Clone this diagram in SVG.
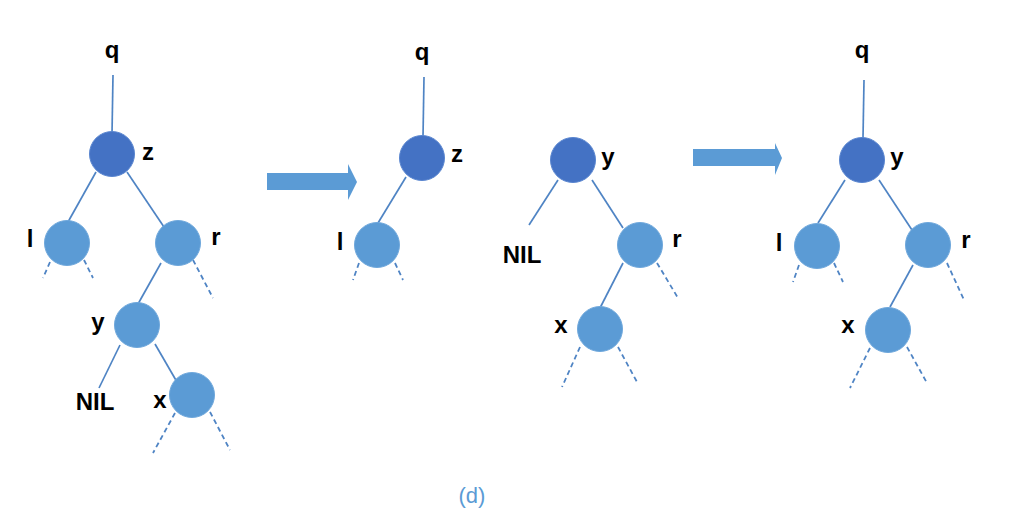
<svg xmlns="http://www.w3.org/2000/svg" width="1009" height="524" viewBox="0 0 1009 524">
<style>
.e{stroke:#4f84c4;stroke-width:1.7;fill:none}
.d{stroke:#4f84c4;stroke-width:1.8;fill:none;stroke-dasharray:5,3.5}
.n{fill:#5b9bd5;stroke:#6fa8dc;stroke-width:1}
.k{fill:#4472c4;stroke:#5a86d0;stroke-width:1}
.t{font-family:"Liberation Sans",Arial,sans-serif;font-weight:bold;font-size:24px;fill:#000;text-anchor:middle}
.a{fill:#5b9bd5}
.c{font-family:"Liberation Sans",Arial,sans-serif;font-size:22px;fill:#5b9bd5;text-anchor:middle}
</style>
<rect width="1009" height="524" fill="#fff"/>
<g id="connectors">
<!-- tree 1 -->
<line class="e" x1="113" y1="75" x2="112" y2="134"/>
<line class="e" x1="96" y1="172" x2="68" y2="222"/>
<line class="e" x1="127" y1="172" x2="166" y2="230"/>
<line class="e" x1="161" y1="263" x2="138" y2="304"/>
<line class="e" x1="155" y1="344" x2="177" y2="382"/>
<line class="e" x1="120" y1="345" x2="99" y2="388"/>
<line class="d" x1="50" y1="262" x2="43" y2="278"/>
<line class="d" x1="84" y1="260" x2="93" y2="278"/>
<line class="d" x1="193" y1="260" x2="213" y2="298"/>
<line class="d" x1="175" y1="413" x2="153" y2="453"/>
<line class="d" x1="210" y1="412" x2="230" y2="450"/>
<!-- tree 2 -->
<line class="e" x1="424" y1="77" x2="423" y2="137"/>
<line class="e" x1="406" y1="177" x2="378" y2="223"/>
<line class="d" x1="359" y1="263" x2="353" y2="280"/>
<line class="d" x1="395" y1="263" x2="403" y2="280"/>
<!-- tree 3 -->
<line class="e" x1="558" y1="180" x2="529" y2="225"/>
<line class="e" x1="592" y1="180" x2="623" y2="228"/>
<line class="e" x1="623" y1="263" x2="600" y2="308"/>
<line class="d" x1="657" y1="263" x2="678" y2="298"/>
<line class="d" x1="580" y1="347" x2="562" y2="387"/>
<line class="d" x1="618" y1="347" x2="637" y2="382"/>
<!-- tree 4 -->
<line class="e" x1="864" y1="80" x2="863" y2="138"/>
<line class="e" x1="845" y1="180" x2="818" y2="223"/>
<line class="e" x1="879" y1="180" x2="912" y2="230"/>
<line class="e" x1="913" y1="265" x2="890" y2="307"/>
<line class="d" x1="799" y1="265" x2="793" y2="282"/>
<line class="d" x1="834" y1="263" x2="843" y2="282"/>
<line class="d" x1="947" y1="263" x2="964" y2="300"/>
<line class="d" x1="870" y1="348" x2="850" y2="388"/>
<line class="d" x1="907" y1="347" x2="927" y2="383"/>
</g>
<g id="arrow1"><polygon class="a" points="267,173 348,173 348,164 357,182 348,200 348,190 267,190"/></g>
<g id="arrow2"><polygon class="a" points="693,149 775,149 775,143 782,158 775,175 775,166 693,166"/></g>
<!-- tree 1 nodes -->
<g id="t1-q"><text class="t" x="112" y="58">q</text></g>
<g id="t1-z"><circle class="k" cx="112" cy="154" r="22.5"/><text class="t" x="148" y="160">z</text></g>
<g id="t1-l"><circle class="n" cx="67" cy="243" r="22.5"/><text class="t" x="30" y="247">l</text></g>
<g id="t1-r"><circle class="n" cx="178" cy="243" r="22.5"/><text class="t" x="216" y="245">r</text></g>
<g id="t1-y"><circle class="n" cx="137" cy="325" r="22.5"/><text class="t" x="98" y="330">y</text></g>
<g id="t1-nil"><text class="t" x="95" y="410">NIL</text></g>
<g id="t1-x"><circle class="n" cx="192" cy="395" r="22.5"/><text class="t" x="160" y="408">x</text></g>
<!-- tree 2 -->
<g id="t2-q"><text class="t" x="422" y="60">q</text></g>
<g id="t2-z"><circle class="k" cx="422" cy="158" r="22.5"/><text class="t" x="457" y="162">z</text></g>
<g id="t2-l"><circle class="n" cx="377" cy="245" r="22.5"/><text class="t" x="340" y="250">l</text></g>
<!-- tree 3 -->
<g id="t3-y"><circle class="k" cx="573" cy="160" r="22.5"/><text class="t" x="608" y="165">y</text></g>
<g id="t3-nil"><text class="t" x="522" y="263">NIL</text></g>
<g id="t3-r"><circle class="n" cx="640" cy="245" r="22.5"/><text class="t" x="677" y="247">r</text></g>
<g id="t3-x"><circle class="n" cx="600" cy="329" r="22.5"/><text class="t" x="561" y="333">x</text></g>
<!-- tree 4 -->
<g id="t4-q"><text class="t" x="862" y="58">q</text></g>
<g id="t4-y"><circle class="k" cx="862" cy="160" r="22.5"/><text class="t" x="897" y="165">y</text></g>
<g id="t4-l"><circle class="n" cx="817" cy="246" r="22.5"/><text class="t" x="779" y="251">l</text></g>
<g id="t4-r"><circle class="n" cx="928" cy="245" r="22.5"/><text class="t" x="966" y="248">r</text></g>
<g id="t4-x"><circle class="n" cx="888" cy="330" r="22.5"/><text class="t" x="848" y="333">x</text></g>
<g id="caption"><text class="c" x="472" y="503">(d)</text></g>
</svg>
